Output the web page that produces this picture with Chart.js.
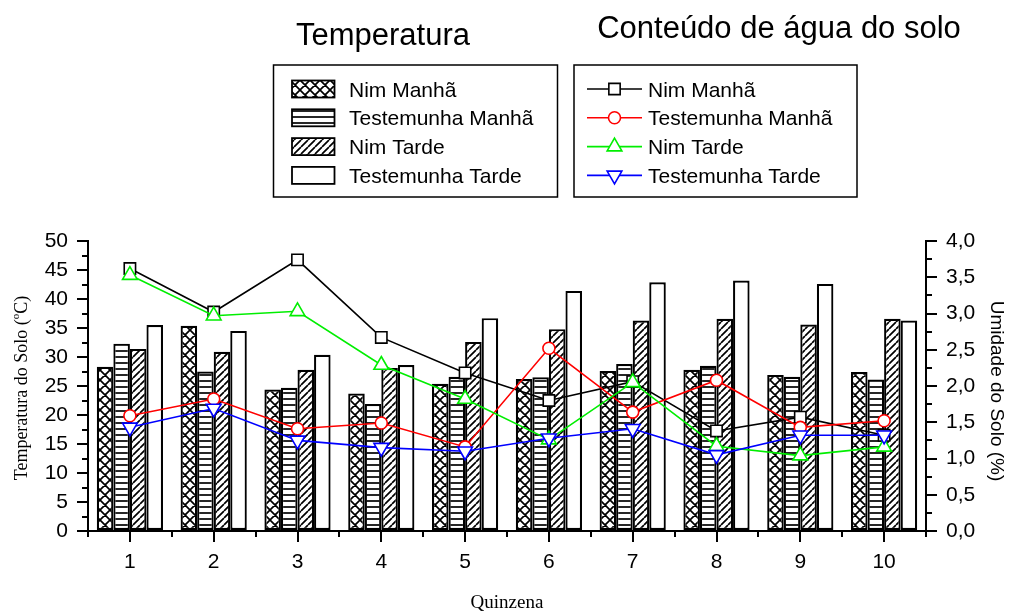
<!DOCTYPE html>
<html>
<head>
<meta charset="utf-8">
<script src="https://cdn.jsdelivr.net/npm/chart.js@4/dist/chart.umd.min.js"></script>
<style>
  html, body { margin: 0; padding: 0; background: #fff; }
  canvas { display: block; }
</style>
</head>
<body>
<canvas id="c" width="1010" height="614"></canvas>
<script>
// Fortnights (quinzenas)
const quinzenas = ['1', '2', '3', '4', '5', '6', '7', '8', '9', '10'];

// Soil temperature (°C) - bars, left axis
const tempNimManha = [28.3, 35.4, 24.4, 23.7, 25.4, 26.2, 27.6, 27.8, 26.9, 27.4];
const tempTestManha = [32.3, 27.5, 24.7, 21.9, 26.6, 26.5, 28.8, 28.5, 26.6, 26.1];
const tempNimTarde = [31.4, 30.9, 27.8, 28.1, 32.6, 34.8, 36.3, 36.6, 35.6, 36.6];
const tempTestTarde = [35.5, 34.5, 30.4, 28.6, 36.7, 41.4, 42.9, 43.2, 42.6, 36.3];

// Soil water content (%) - lines, right axis
const aguaNimManha = [3.62, 3.02, 3.74, 2.67, 2.18, 1.80, 2.06, 1.38, 1.57, 1.32];
const aguaTestManha = [1.59, 1.82, 1.41, 1.49, 1.16, 2.52, 1.64, 2.08, 1.43, 1.52];
const aguaNimTarde = [3.53, 2.97, 3.03, 2.29, 1.82, 1.26, 2.05, 1.17, 1.04, 1.16];
const aguaTestTarde = [1.43, 1.69, 1.25, 1.15, 1.10, 1.28, 1.41, 1.05, 1.32, 1.32];

const serieNomes = ['Nim Manhã', 'Testemunha Manhã', 'Nim Tarde', 'Testemunha Tarde'];

// Hatch fills for the bars
function makePattern(kind) {
  const s = kind === 'cross' ? 10 : (kind === 'horiz' ? 6 : 7);
  const c = document.createElement('canvas');
  c.width = s; c.height = s;
  const g = c.getContext('2d');
  g.fillStyle = '#fff';
  g.fillRect(0, 0, s, s);
  g.strokeStyle = '#000';
  g.lineWidth = 1.7;
  g.beginPath();
  if (kind === 'horiz') {
    g.moveTo(0, s / 2); g.lineTo(s, s / 2);
  } else {
    for (const k of [-s, 0, s]) {
      g.moveTo(k, s); g.lineTo(k + s, 0);
      if (kind === 'cross') { g.moveTo(k, 0); g.lineTo(k + s, s); }
    }
  }
  g.stroke();
  return g.createPattern(c, 'repeat');
}

const fills = [makePattern('cross'), makePattern('horiz'), makePattern('diag'), '#ffffff'];
const lineColors = ['#000000', '#ff0000', '#00ee00', '#0000ff'];
const pointStyles = [
  { style: 'rect', radius: 8, rotation: 0 },
  { style: 'circle', radius: 6, rotation: 0 },
  { style: 'triangle', radius: 8.5, rotation: 0 },
  { style: 'triangle', radius: 8.5, rotation: 180 }
];

const tempSeries = [tempNimManha, tempTestManha, tempNimTarde, tempTestTarde];
const aguaSeries = [aguaNimManha, aguaTestManha, aguaNimTarde, aguaTestTarde];

const datasets = [];
tempSeries.forEach((d, i) => {
  datasets.push({
    type: 'bar',
    label: 'Temperatura ' + serieNomes[i],
    data: d,
    yAxisID: 'y',
    backgroundColor: fills[i],
    borderColor: '#000',
    borderWidth: 2.2,
    borderSkipped: false,
    categoryPercentage: 0.79,
    barPercentage: 1.0,
    order: 10
  });
});
aguaSeries.forEach((d, i) => {
  datasets.push({
    type: 'line',
    label: 'Água ' + serieNomes[i],
    data: d,
    yAxisID: 'y2',
    borderColor: lineColors[i],
    borderWidth: 1.6,
    pointStyle: pointStyles[i].style,
    pointRadius: pointStyles[i].radius,
    pointRotation: pointStyles[i].rotation,
    pointBackgroundColor: '#fff',
    pointBorderColor: lineColors[i],
    pointBorderWidth: 1.6,
    tension: 0,
    fill: false,
    order: 4 - i
  });
});

// Minor ticks on all three axes
const minorTicks = {
  id: 'minorTicks',
  afterDraw(chart) {
    const ctx = chart.ctx;
    const { y, y2 } = chart.scales;
    const a = chart.chartArea;
    ctx.save();
    ctx.strokeStyle = '#000';
    ctx.lineWidth = 2;
    ctx.beginPath();
    for (let v = 2.5; v < 50; v += 5) {
      const py = Math.round(y.getPixelForValue(v));
      ctx.moveTo(a.left, py); ctx.lineTo(a.left - 6, py);
    }
    for (let v = 0.25; v < 4; v += 0.5) {
      const py = Math.round(y2.getPixelForValue(v));
      ctx.moveTo(a.right, py); ctx.lineTo(a.right + 6, py);
    }
    const n = quinzenas.length;
    const w = (a.right - a.left) / n;
    for (let i = 0; i <= n; i++) {
      const px = Math.round(a.left + i * w);
      ctx.moveTo(px, a.bottom); ctx.lineTo(px, a.bottom + 6);
    }
    ctx.stroke();
    ctx.restore();
  }
};

// Titles, the two legend boxes and the axis titles
const decor = {
  id: 'decor',
  beforeDraw(chart) {
    const ctx = chart.ctx;
    ctx.save();
    ctx.fillStyle = '#fff';
    ctx.fillRect(0, 0, chart.width, chart.height);
    ctx.restore();
  },
  afterDraw(chart) {
    const ctx = chart.ctx;
    ctx.save();
    ctx.fillStyle = '#000';
    ctx.textBaseline = 'alphabetic';

    // group titles
    ctx.font = '31px "Liberation Sans", Arial, sans-serif';
    ctx.textAlign = 'center';
    ctx.fillText('Temperatura', 383, 45);
    ctx.fillText('Conteúdo de água do solo', 779, 38);

    // legend boxes
    ctx.strokeStyle = '#000';
    ctx.lineWidth = 1.5;
    ctx.strokeRect(273.5, 65, 284, 132);
    ctx.strokeRect(574, 65, 283, 132);

    ctx.font = '21px "Liberation Sans", Arial, sans-serif';
    ctx.textAlign = 'left';
    for (let i = 0; i < 4; i++) {
      const cy = 89 + i * 28.8;
      // bar swatch
      ctx.fillStyle = fills[i];
      ctx.fillRect(292, cy - 8.5, 42.5, 17);
      ctx.strokeStyle = '#000';
      ctx.lineWidth = 1.8;
      ctx.strokeRect(292, cy - 8.5, 42.5, 17);
      ctx.fillStyle = '#000';
      ctx.fillText(serieNomes[i], 349, cy + 7.5);

      // line swatch
      ctx.strokeStyle = lineColors[i];
      ctx.lineWidth = 1.6;
      ctx.beginPath();
      ctx.moveTo(587, cy); ctx.lineTo(642, cy);
      ctx.stroke();
      ctx.fillStyle = '#fff';
      Chart.helpers.drawPoint(ctx, {
        pointStyle: pointStyles[i].style,
        radius: pointStyles[i].radius,
        rotation: pointStyles[i].rotation,
        borderWidth: 1.6
      }, 614.5, cy);
      ctx.fillStyle = '#000';
      ctx.fillText(serieNomes[i], 648, cy + 7.5);
    }

    // left axis title (serif, with superscript degree)
    ctx.save();
    ctx.translate(22, 388);
    ctx.rotate(-Math.PI / 2);
    const big = '18px "Liberation Serif", "Times New Roman", serif';
    const small = '11px "Liberation Serif", "Times New Roman", serif';
    const p1 = 'Temperatura do Solo (', p2 = 'o', p3 = 'C)';
    ctx.font = big; const w1 = ctx.measureText(p1).width; const w3 = ctx.measureText(p3).width;
    ctx.font = small; const w2 = ctx.measureText(p2).width;
    let sx = -(w1 + w2 + w3) / 2;
    ctx.textAlign = 'left';
    ctx.textBaseline = 'middle';
    ctx.font = big; ctx.fillText(p1, sx, 0); sx += w1;
    ctx.font = small; ctx.fillText(p2, sx, -6); sx += w2;
    ctx.font = big; ctx.fillText(p3, sx, 0);
    ctx.restore();

    // right axis title
    ctx.save();
    ctx.translate(996, 391);
    ctx.rotate(Math.PI / 2);
    ctx.font = '19px "Liberation Sans", Arial, sans-serif';
    ctx.textAlign = 'center';
    ctx.textBaseline = 'middle';
    ctx.fillText('Umidade do Solo (%)', 0, 0);
    ctx.restore();

    // x axis title
    ctx.font = '19px "Liberation Serif", "Times New Roman", serif';
    ctx.textAlign = 'center';
    ctx.textBaseline = 'alphabetic';
    ctx.fillText('Quinzena', 507, 608);

    ctx.restore();
  }
};

const tickFont = { family: '"Liberation Sans", Arial, sans-serif', size: 21 };

new Chart(document.getElementById('c'), {
  data: { labels: quinzenas, datasets },
  options: {
    responsive: false,
    animation: false,
    devicePixelRatio: 1,
    layout: { padding: { top: 241, left: 0, right: 0, bottom: 0 } },
    plugins: { legend: { display: false }, tooltip: { enabled: false }, title: { display: false } },
    scales: {
      x: {
        type: 'category',
        offset: true,
        grid: { display: true, drawOnChartArea: false, drawTicks: true, tickLength: 11, offset: false, color: '#000', lineWidth: 2 },
        border: { display: true, color: '#000', width: 2 },
        ticks: { color: '#000', font: tickFont, padding: 8, maxRotation: 0, autoSkip: false },
        afterFit(s) { s.height = 83; }
      },
      y: {
        position: 'left',
        min: 0, max: 50,
        grid: { display: true, drawOnChartArea: false, drawTicks: true, tickLength: 11, color: '#000', lineWidth: 2 },
        border: { display: true, color: '#000', width: 2 },
        ticks: { color: '#000', font: tickFont, stepSize: 5, padding: 9 },
        afterFit(s) { s.width = 88; }
      },
      y2: {
        position: 'right',
        min: 0, max: 4,
        grid: { display: true, drawOnChartArea: false, drawTicks: true, tickLength: 11, color: '#000', lineWidth: 2 },
        border: { display: true, color: '#000', width: 2 },
        ticks: {
          color: '#000', font: tickFont, stepSize: 0.5, padding: 9,
          callback: (v) => Number(v).toFixed(1).replace('.', ',')
        },
        afterFit(s) { s.width = 84; }
      }
    }
  },
  plugins: [decor, minorTicks]
});
</script>
</body>
</html>
